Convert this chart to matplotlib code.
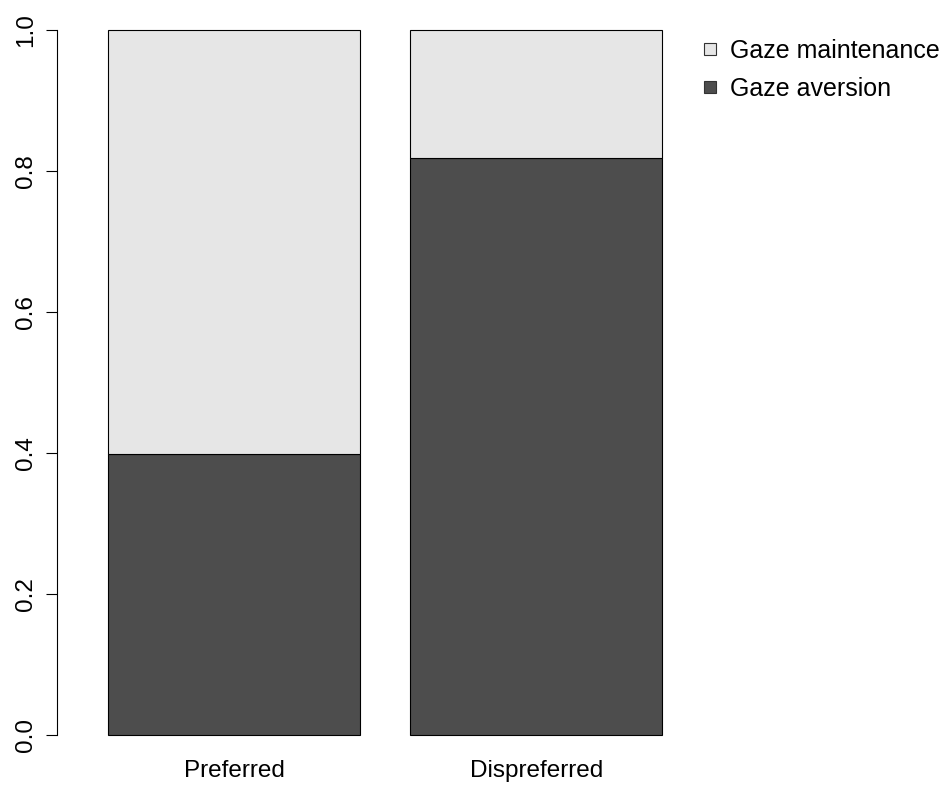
import matplotlib.pyplot as plt
from matplotlib.lines import Line2D

# dane
kategorie = ['Preferred', 'Dispreferred']
aversion = [0.398, 0.819]
maintenance = [1 - v for v in aversion]
serie = ['Gaze maintenance', 'Gaze aversion']
kolory = ['#e6e6e6', '#4d4d4d']

plt.rcParams['font.family'] = ['Liberation Sans', 'DejaVu Sans']
fs = 17.5

W, H = 944, 785
fig = plt.figure(figsize=(W / 100, H / 100), dpi=100)
# obszar wykresu w pikselach (jak w R)
x0, x1 = 57, 944
y_top, y_bot = 2, 763
ax = fig.add_axes([x0 / W, (H - y_bot) / H, (x1 - x0) / W, (y_bot - y_top) / H])

pos = [0.7, 1.9]
ax.bar(pos, aversion, width=1.0, color=kolory[1], edgecolor='black', linewidth=0.8)
ax.bar(pos, maintenance, width=1.0, bottom=aversion, color=kolory[0],
       edgecolor='black', linewidth=0.8)

ax.set_xlim(0.2 - (108 - x0) / 252, 0.2 + (x1 - 108) / 252)
ax.set_ylim(-0.04, 1.04)

for s in ['top', 'right', 'bottom']:
    ax.spines[s].set_visible(False)
ax.spines['left'].set_bounds(0, 1)
ax.spines['left'].set_linewidth(0.8)
ax.set_yticks([0, 0.2, 0.4, 0.6, 0.8, 1.0])
ax.set_yticklabels(['0.0', '0.2', '0.4', '0.6', '0.8', '1.0'], rotation=90, va='center')
ax.tick_params(axis='y', length=8, width=0.8, labelsize=fs, pad=6.5)
ax.set_xticks(pos)
ax.set_xticklabels(kategorie)
ax.tick_params(axis='x', length=0, labelsize=fs, pad=-2)

uchwyty = [Line2D([], [], marker='s', linestyle='none', markersize=8,
                  markerfacecolor=kolory[i], markeredgecolor='#333333', markeredgewidth=0.8)
           for i in range(2)]
fig.legend(uchwyty, serie, loc='upper left', bbox_to_anchor=(702 / W, 1 - 39 / H),
           frameon=False, fontsize=18, handlelength=0.6, handletextpad=0.5,
           labelspacing=0.55, borderpad=0, borderaxespad=0)

fig.savefig('out.png', dpi=100)
